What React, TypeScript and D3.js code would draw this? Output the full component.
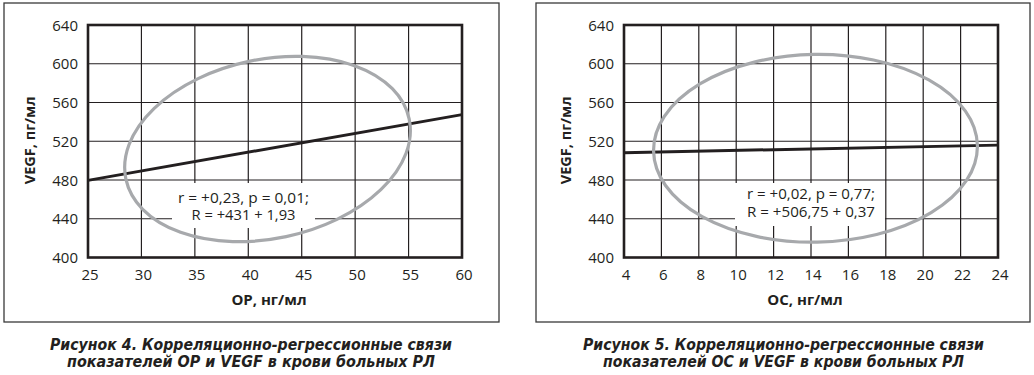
import React from "react";
import * as d3 from "d3";

// ---- data ----
const yTicks = [400, 440, 480, 520, 560, 600, 640];
const leftXTicks = [25, 30, 35, 40, 45, 50, 55, 60];
const rightXTicks = [4, 6, 8, 10, 12, 14, 16, 18, 20, 22, 24];
const leftRegression = [
  { x: 25, y: 479.6 },
  { x: 60, y: 547.5 },
];
const rightRegression = [
  { x: 4, y: 508.2 },
  { x: 24, y: 516.0 },
];
// ellipse: centre in data units, semi-axes in data units, rotation in degrees
const leftEllipse = { cx: 41.8, cy: 512, rx: 13.55, ry: 92.5, angle: -12 };
const rightEllipse = { cx: 14.24, cy: 512.7, rx: 8.66, ry: 96.9, angle: -1 };
const leftStats = ["r = +0,23, p = 0,01;", "R = +431 + 1,93"];
const rightStats = ["r = +0,02, p = 0,77;", "R = +506,75 + 0,37"];
const yTitle = "VEGF, пг/мл";
const leftXTitle = "OP, нг/мл";
const rightXTitle = "OC, нг/мл";
const leftCaption = [
  "Рисунок 4. Корреляционно-регрессионные связи",
  "показателей ОР и VEGF в крови больных РЛ",
];
const rightCaption = [
  "Рисунок 5. Корреляционно-регрессионные связи",
  "показателей ОС и VEGF в крови больных РЛ",
];

const INK = "#231f20";
const FONT = "'Open Sans', 'Liberation Sans', sans-serif";

type Pt = { x: number; y: number };
type Ell = { cx: number; cy: number; rx: number; ry: number; angle: number };

function Panel(props: {
  frameX: number;
  frameW: number;
  plotX0: number;
  plotX1: number;
  xDomain: [number, number];
  xTicks: number[];
  line: Pt[];
  ellipse: Ell;
  stats: string[];
  statsCx: number;
  statsY: number;
  statsGap: number;
  statsW: number[];
  box: { w: number; y0: number; y1: number; cx: number };
  xTitle: string;
  caption: string[];
  captionCx: number;
  captionWidths: number[];
}) {
  const p = props;
  const plotY0 = 25;
  const plotY1 = 257.5;
  const x = d3.scaleLinear().domain(p.xDomain).range([p.plotX0, p.plotX1]);
  const y = d3.scaleLinear().domain([400, 640]).range([plotY1, plotY0]);
  const lineGen = d3
    .line<Pt>()
    .x((d) => x(d.x))
    .y((d) => y(d.y));
  const e = p.ellipse;
  const ecx = x(e.cx);
  const ecy = y(e.cy);
  const erx = x(e.cx + e.rx) - x(e.cx);
  const ery = y(e.cy) - y(e.cy + e.ry);
  const yTitleX = p.plotX0 - 58;
  const yTitleY = (plotY0 + plotY1) / 2 - 1;
  return (
    <g>
      {/* outer frame */}
      <rect
        x={p.frameX}
        y={3}
        width={p.frameW}
        height={319}
        fill="none"
        stroke="#3a3a3a"
        strokeWidth={1.3}
      />
      {/* grid */}
      {p.xTicks.map((t) => (
        <line
          key={"gx" + t}
          x1={x(t)}
          x2={x(t)}
          y1={plotY0}
          y2={plotY1}
          stroke={INK}
          strokeWidth={1.2}
        />
      ))}
      {yTicks.map((t) => (
        <line
          key={"gy" + t}
          x1={p.plotX0}
          x2={p.plotX1}
          y1={y(t)}
          y2={y(t)}
          stroke={INK}
          strokeWidth={1.2}
        />
      ))}
      {/* white box behind stats */}
      <rect
        x={p.box.cx - p.box.w / 2}
        y={p.box.y0}
        width={p.box.w}
        height={p.box.y1 - p.box.y0}
        fill="#fff"
      />
      {/* regression line */}
      <path d={lineGen(p.line) || ""} fill="none" stroke={INK} strokeWidth={3} />
      {/* ellipse */}
      <ellipse
        cx={ecx}
        cy={ecy}
        rx={erx}
        ry={ery}
        transform={`rotate(${e.angle} ${ecx} ${ecy})`}
        fill="none"
        stroke="#a7a9ac"
        strokeWidth={3.2}
      />
      {/* stats text */}
      {p.stats.map((s, i) => (
        <text
          key={s}
          x={p.statsCx}
          y={p.statsY + i * p.statsGap}
          textAnchor="middle"
          fontFamily={FONT}
          fontSize={14.5}
          fill={INK}
          textLength={p.statsW[i]}
          lengthAdjust="spacingAndGlyphs"
        >
          {s}
        </text>
      ))}
      {/* plot border */}
      <rect
        x={p.plotX0}
        y={plotY0}
        width={p.plotX1 - p.plotX0}
        height={plotY1 - plotY0}
        fill="none"
        stroke={INK}
        strokeWidth={2.6}
      />
      {/* y tick labels */}
      {yTicks.map((t) => (
        <text
          key={"ty" + t}
          x={p.plotX0 - 10}
          y={y(t) + 5.5}
          textAnchor="end"
          fontFamily={FONT}
          fontSize={15}
          fill={INK}
        >
          {t}
        </text>
      ))}
      {/* x tick labels */}
      {p.xTicks.map((t) => (
        <text
          key={"tx" + t}
          x={x(t) + 2}
          y={279.5}
          textAnchor="middle"
          fontFamily={FONT}
          fontSize={15}
          fill={INK}
        >
          {t}
        </text>
      ))}
      {/* axis titles */}
      <text
        transform={`translate(${yTitleX},${yTitleY}) rotate(-90)`}
        textAnchor="middle"
        fontFamily={FONT}
        fontWeight="bold"
        fontSize={14.5}
        fill={INK}
        dy={5}
      >
        {yTitle}
      </text>
      <text
        x={(p.plotX0 + p.plotX1) / 2 - 6}
        y={305}
        textAnchor="middle"
        fontFamily={FONT}
        fontWeight="bold"
        fontSize={15}
        fill={INK}
      >
        {p.xTitle}
      </text>
      {/* caption */}
      {p.caption.map((c, i) => (
        <text
          key={c}
          x={p.captionCx}
          y={349.5 + i * 17}
          textAnchor="middle"
          fontFamily="'DejaVu Sans Condensed', 'Liberation Sans Narrow', 'DejaVu Sans', sans-serif"
          fontStretch="condensed"
          fontWeight="bold"
          fontStyle="italic"
          fontSize={16}
          fill={INK}
          textLength={p.captionWidths[i]}
          lengthAdjust="spacingAndGlyphs"
        >
          {c}
        </text>
      ))}
    </g>
  );
}

export default function App() {
  return (
    <svg
      width={1034}
      height={375}
      style={{ position: "absolute", left: 0, top: 0, background: "#fff" }}
    >
      <rect width={1034} height={375} fill="#fff" />
      <Panel
        frameX={4}
        frameW={495}
        plotX0={88}
        plotX1={462}
        xDomain={[25, 60]}
        xTicks={leftXTicks}
        line={leftRegression}
        ellipse={leftEllipse}
        stats={leftStats}
        statsCx={243.5}
        statsY={202.5}
        statsGap={17}
        statsW={[131, 104]}
        box={{ cx: 243.5, w: 143, y0: 183, y1: 228 }}
        xTitle={leftXTitle}
        caption={leftCaption}
        captionCx={251}
        captionWidths={[402, 368]}
      />
      <Panel
        frameX={536}
        frameW={494}
        plotX0={624}
        plotX1={998}
        xDomain={[4, 24]}
        xTicks={rightXTicks}
        line={rightRegression}
        ellipse={rightEllipse}
        stats={rightStats}
        statsCx={811}
        statsY={199}
        statsGap={17.5}
        statsW={[128, 128]}
        box={{ cx: 810, w: 150, y0: 183, y1: 226 }}
        xTitle={rightXTitle}
        caption={rightCaption}
        captionCx={783.5}
        captionWidths={[401, 361]}
      />
    </svg>
  );
}
